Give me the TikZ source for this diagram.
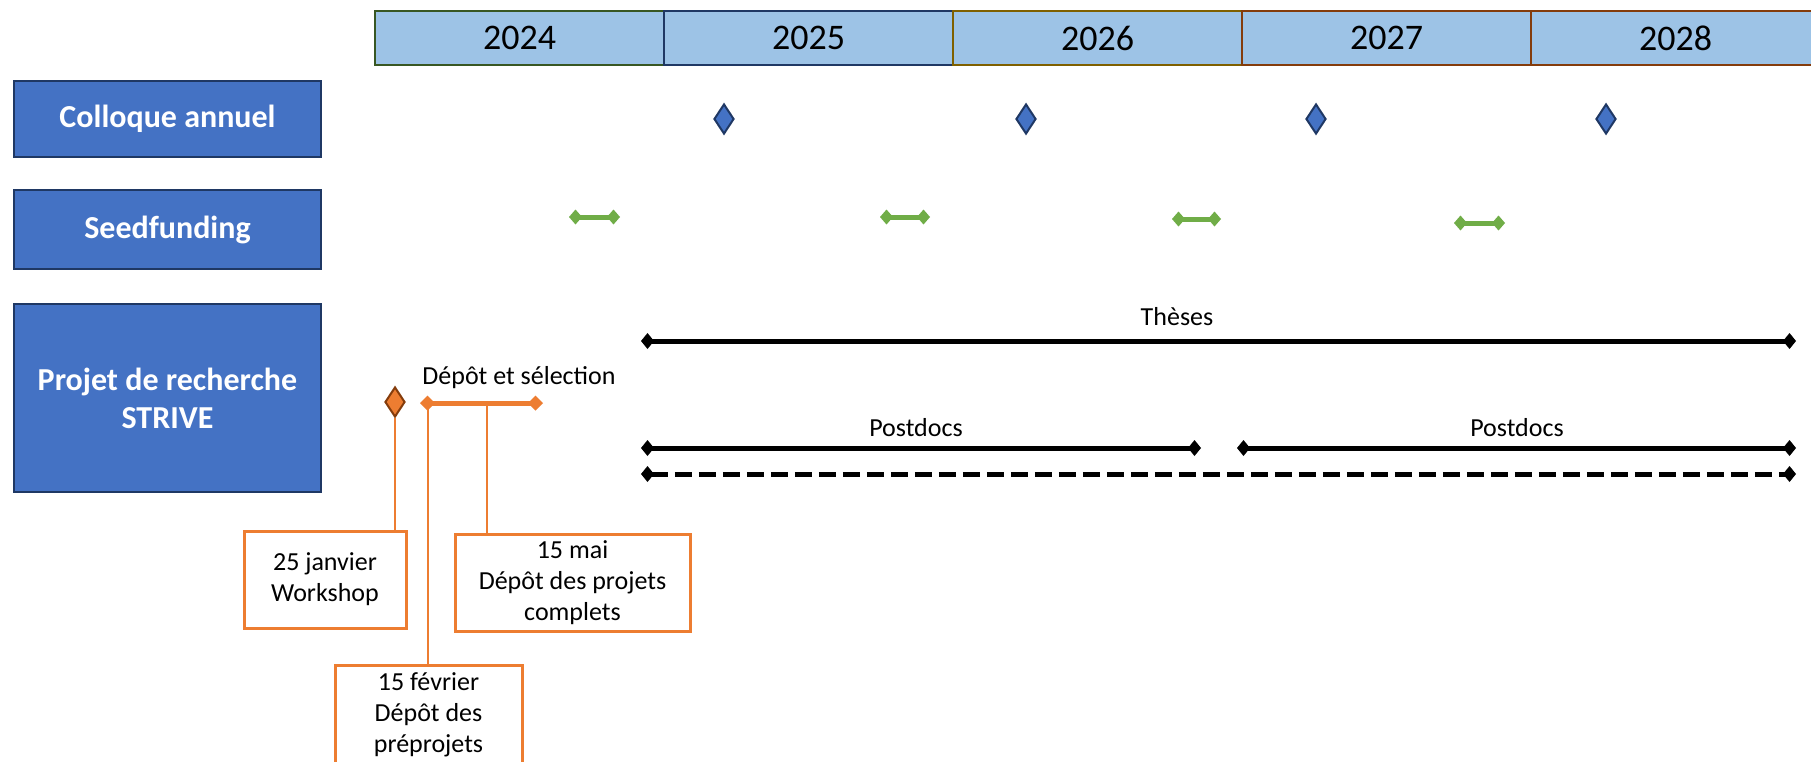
\documentclass[tikz,border=0pt]{standalone}
\usepackage{fontspec}
\setmainfont{Carlito}
\usetikzlibrary{arrows.meta,shapes.geometric}
\definecolor{hdrfill}{HTML}{9DC3E6}
\definecolor{accblue}{HTML}{4472C4}
\definecolor{navy}{HTML}{1F3864}
\definecolor{hdrgreen}{HTML}{385723}
\definecolor{hdrnavy}{HTML}{203864}
\definecolor{hdrgold}{HTML}{7F6000}
\definecolor{hdrbrown}{HTML}{843C0C}
\definecolor{accorange}{HTML}{ED7D31}
\definecolor{darkorange}{HTML}{843C0C}
\definecolor{accgreen}{HTML}{70AD47}
\begin{document}
\begin{tikzpicture}[x=1pt,y=-1pt,
  yearcell/.style={draw, fill=hdrfill, line width=2pt, minimum width=289pt, minimum height=54pt, inner sep=0pt, font=\fontsize{36}{43}\selectfont},
  rowlabel/.style={draw=navy, fill=accblue, line width=2.5pt, text=white, minimum width=307pt, inner sep=0pt, align=center, font=\fontsize{32}{38}\selectfont\bfseries},
  milestone/.style={diamond, draw=navy, fill=accblue, line width=2pt, minimum width=20pt, minimum height=30pt, inner sep=0pt},
  wsdiamond/.style={diamond, draw=darkorange, fill=accorange, line width=2pt, minimum width=20pt, minimum height=30pt, inner sep=0pt},
  seedspan/.style={draw=accgreen, line width=5pt, >={Diamond[length=13pt,width=15pt]}, <->},
  orangespan/.style={draw=accorange, line width=5pt, >={Diamond[length=15pt,width=15pt]}, <->},
  blackspan/.style={draw=black, line width=5pt, >={Diamond[length=13pt,width=16pt]}, <->},
  dashspan/.style={blackspan, dash pattern=on 17pt off 7pt},
  smalltext/.style={inner sep=0pt, font=\fontsize{26}{31}\selectfont},
  callout/.style={draw=accorange, fill=white, line width=3pt, inner sep=0pt, align=center, font=\fontsize{26}{31}\selectfont},
  leader/.style={draw=accorange, line width=2pt}
]
\useasboundingbox (0,0) rectangle (1811,761);
\clip (0,0) rectangle (1811,761);
\fill[white] (0,0) rectangle (1811,761);

% header years
\node[yearcell, draw=hdrgreen] (y2024) at (519.5,38) {2024};
\node[yearcell, draw=hdrnavy]  (y2025) at (808.5,38) {2025};
\node[yearcell, draw=hdrgold]  (y2026) at (1097.5,38) {2026};
\node[yearcell, draw=hdrbrown] (y2027) at (1386.5,38) {2027};
\node[yearcell, draw=hdrbrown] (y2028) at (1675.5,38) {2028};

% row labels
\node[rowlabel, minimum height=76pt]  (colloque) at (167.5,119) {Colloque annuel};
\node[rowlabel, minimum height=79pt]  (seed)     at (167.5,229.5) {Seedfunding};
\node[rowlabel, minimum height=188pt] (projet)   at (167.5,398) {Projet de recherche\\STRIVE};

% colloque milestones
\node[milestone] (c2025) at (724,119) {};
\node[milestone] (c2026) at (1026,119) {};
\node[milestone] (c2027) at (1316,119) {};
\node[milestone] (c2028) at (1606,119) {};

% seedfunding spans
\coordinate (s1a) at (569,217);  \coordinate (s1b) at (620,217);
\coordinate (s2a) at (880,217);  \coordinate (s2b) at (930,217);
\coordinate (s3a) at (1172,219); \coordinate (s3b) at (1221,219);
\coordinate (s4a) at (1454,223); \coordinate (s4b) at (1505,223);
\draw[seedspan] (s1a) -- (s1b);
\draw[seedspan] (s2a) -- (s2b);
\draw[seedspan] (s3a) -- (s3b);
\draw[seedspan] (s4a) -- (s4b);

% callout boxes
\node[callout, minimum width=162pt, minimum height=97pt] (wk)  at (325,579.5) {25 janvier\\Workshop};
\node[callout, minimum width=235pt, minimum height=97pt] (mai) at (572.5,582.5) {15 mai\\Dépôt des projets\\complets};
\node[callout, minimum width=187pt, minimum height=100pt] (fev) at (428.5,715) {15 février\\Dépôt des\\préprojets};

% workshop diamond and submission span
\coordinate (dsA) at (420,403);
\coordinate (dsB) at (543,403);
\coordinate (dsLeft) at (428,403);
\coordinate (dsMid) at (487,403);
\node[wsdiamond] (wsmark) at (395,402) {};
\draw[leader] (wsmark.south) -- (wsmark.south |- wk.north);
\draw[leader] (dsLeft) -- (dsLeft |- fev.north);
\draw[leader] (dsMid) -- (dsMid |- mai.north);
\draw[orangespan] (dsA) -- (dsB);
\node[smalltext, anchor=base] (dslbl) at (519,384) {Dépôt et sélection};

% theses / postdocs
\coordinate (thA) at (641,341);   \coordinate (thB) at (1796,341);
\coordinate (pd1A) at (641,448);  \coordinate (pd1B) at (1201,448);
\coordinate (pd2A) at (1237,448); \coordinate (pd2B) at (1796,448);
\coordinate (dsh1) at (641,474);  \coordinate (dsh2) at (1796,474);
\draw[blackspan] (thA) -- (thB);
\draw[blackspan] (pd1A) -- (pd1B);
\draw[blackspan] (pd2A) -- (pd2B);
\draw[dashspan] (dsh1) -- (dsh2);
\node[smalltext, anchor=base] (theslbl) at (1177,325) {Thèses};
\node[smalltext, anchor=base] (pd1lbl) at (916,436) {Postdocs};
\node[smalltext, anchor=base] (pd2lbl) at (1517,436) {Postdocs};
\end{tikzpicture}
\end{document}
